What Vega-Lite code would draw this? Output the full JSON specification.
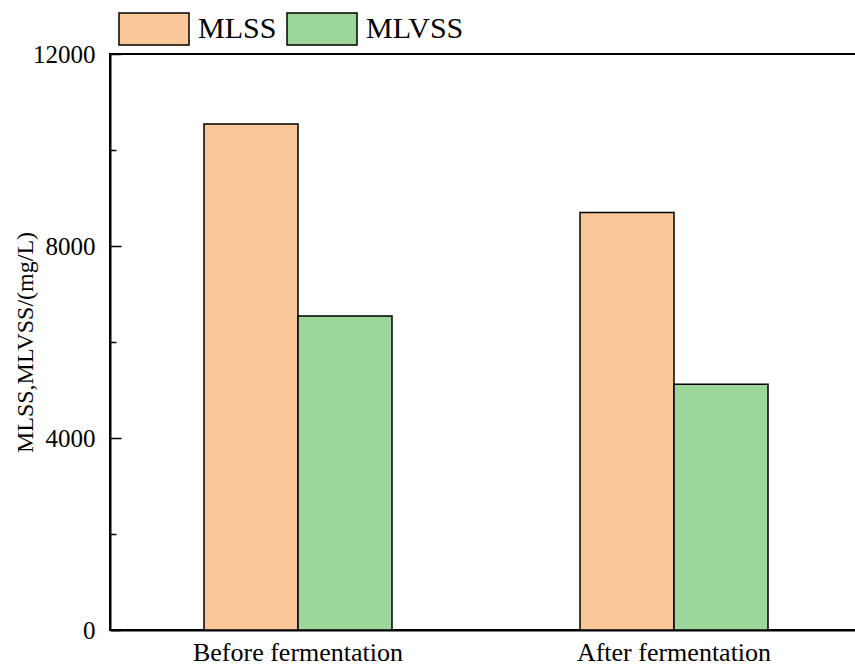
{
  "$schema": "https://vega.github.io/schema/vega-lite/v6.json",
  "width": 752,
  "height": 576,
  "autosize": "none",
  "padding": {"left": 110, "top": 54, "right": 0, "bottom": 39},
  "background": "white",
  "config": {
    "view": {"stroke": "black", "strokeWidth": 2},
    "font": "Liberation Serif"
  },
  "data": {
    "values": [
      {"stage": "Before fermentation", "type": "MLSS", "value": 10540},
      {"stage": "Before fermentation", "type": "MLVSS", "value": 6540},
      {"stage": "After fermentation", "type": "MLSS", "value": 8700},
      {"stage": "After fermentation", "type": "MLVSS", "value": 5120}
    ]
  },
  "mark": {"type": "bar", "stroke": "black", "strokeWidth": 1.5},
  "encoding": {
    "x": {
      "field": "stage",
      "type": "nominal",
      "sort": ["Before fermentation", "After fermentation"],
      "scale": {"paddingInner": 0.5, "paddingOuter": 0.25},
      "axis": {
        "title": null,
        "labelAngle": 0,
        "ticks": false,
        "domainColor": "black",
        "domainWidth": 2,
        "labelFont": "Liberation Serif",
        "labelFontSize": 26,
        "labelColor": "black",
        "labelPadding": 9,
        "labelLimit": 500
      }
    },
    "xOffset": {"field": "type", "sort": ["MLSS", "MLVSS"]},
    "y": {
      "field": "value",
      "type": "quantitative",
      "scale": {"domain": [0, 12000], "nice": false},
      "axis": {
        "values": [0, 2000, 4000, 6000, 8000, 10000, 12000],
        "labelExpr": "datum.value % 4000 === 0 ? format(datum.value, 'd') : ''",
        "grid": false,
        "domainColor": "black",
        "domainWidth": 2,
        "tickColor": "black",
        "tickWidth": 1.5,
        "tickSize": {"condition": {"test": "datum.value % 4000 === 0", "value": -11}, "value": -6},
        "labelFont": "Liberation Serif",
        "labelFontSize": 25,
        "labelColor": "black",
        "labelPadding": 26,
        "title": "MLSS,MLVSS/(mg/L)",
        "titleFont": "Liberation Serif",
        "titleFontSize": 24,
        "titleFontWeight": "normal",
        "titleColor": "black",
        "titlePadding": -5
      }
    },
    "color": {
      "field": "type",
      "type": "nominal",
      "scale": {"domain": ["MLSS", "MLVSS"], "range": ["#FAC898", "#9DD69B"]},
      "legend": {
        "title": null,
        "orient": "none",
        "legendX": 8,
        "legendY": -61,
        "direction": "horizontal",
        "symbolType": "M-1,-0.457L1,-0.457L1,0.457L-1,0.457Z",
        "symbolSize": 4900,
        "symbolStrokeColor": "black",
        "symbolStrokeWidth": 1.5,
        "symbolOpacity": 1,
        "labelFont": "Liberation Serif",
        "labelFontSize": 30,
        "labelColor": "black",
        "labelOffset": 8,
        "columnPadding": 7
      }
    }
  }
}
